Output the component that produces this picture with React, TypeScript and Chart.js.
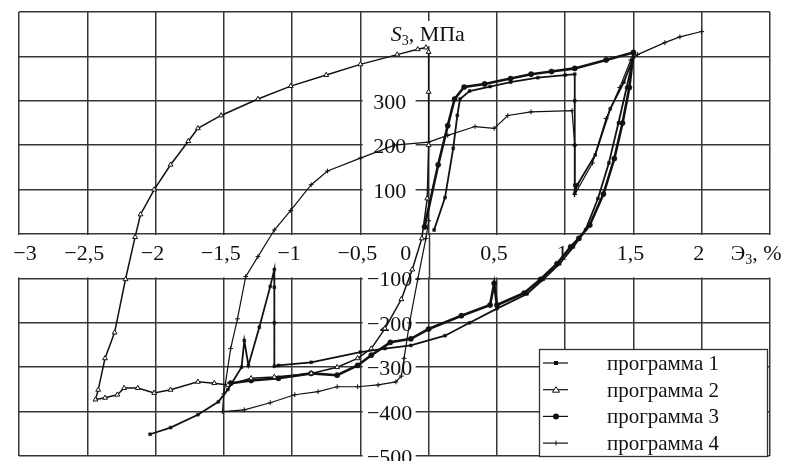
import { useEffect, useRef } from "react";
import { Chart, registerables } from "chart.js";

Chart.register(...registerables);

// ---- tick labels ----
const xTickValues = [-3, -2.5, -2, -1.5, -1, -0.5, 0, 0.5, 1, 1.5, 2];
const xTickLabels = ["−3", "−2,5", "−2", "−1,5", "−1", "−0,5", "0", "0,5", "1", "1,5", "2"];
const yTickValues = [300, 200, 100, -100, -200, -300, -400, -500];
const yTickLabels = ["300", "200", "100", "−100", "−200", "−300", "−400", "−500"];
const seriesNames = ["программа 1", "программа 2", "программа 3", "программа 4"];

// ---- series (strain %, stress MPa) ----
const prog1: [number, number][] = [
  [0.04, 9], [0.12, 82], [0.18, 193], [0.21, 267], [0.23, 304], [0.3, 322], [0.45, 332],
  [0.6, 342], [0.8, 352], [1.0, 358], [1.07, 360], [1.07, 300], [1.07, 200], [1.07, 110],
  [1.07, 92], [1.09, 111], [1.22, 178], [1.33, 282], [1.43, 342], [1.5, 398],
  [1.45, 330], [1.39, 250], [1.32, 160], [1.24, 80], [1.15, 10], [1.06, -29], [0.96, -67],
  [0.84, -102], [0.72, -135], [0.5, -168], [0.3, -200], [0.12, -229], [-0.13, -251],
  [-0.32, -258], [-0.5, -266], [-0.86, -289], [-1.1, -296], [-1.13, -298], [-1.13, -200],
  [-1.13, -120], [-1.13, -80], [-1.16, -118], [-1.24, -210], [-1.32, -296], [-1.35, -240],
  [-1.37, -300], [-1.47, -350], [-1.54, -378], [-1.69, -407], [-1.89, -436], [-2.04, -451],
];
const prog2: [number, number][] = [
  [-0.02, 420], [-0.08, 416], [-0.23, 404], [-0.5, 382], [-0.75, 358], [-1.01, 333],
  [-1.25, 304], [-1.52, 267], [-1.69, 238], [-1.76, 209], [-1.89, 156], [-2.01, 100],
  [-2.11, 44], [-2.15, -7], [-2.22, -102], [-2.3, -222], [-2.37, -280], [-2.42, -351],
  [-2.44, -373], [-2.37, -369], [-2.28, -362], [-2.23, -347], [-2.13, -347], [-2.01, -358],
  [-1.89, -351], [-1.69, -333], [-1.57, -336], [-1.47, -340], [-1.3, -325], [-1.13, -322],
  [-0.86, -314], [-0.67, -300], [-0.52, -280], [-0.42, -258], [-0.32, -213], [-0.2, -147],
  [-0.12, -80], [-0.05, -10], [-0.01, 80], [0, 200], [0, 320], [0, 410],
];
const prog3: [number, number][] = [
  [-0.03, 16], [0.07, 156], [0.14, 244], [0.19, 304], [0.26, 331], [0.41, 338], [0.6, 350],
  [0.75, 360], [0.9, 366], [1.07, 373], [1.3, 392], [1.5, 409], [1.47, 330], [1.42, 250],
  [1.36, 170], [1.28, 90], [1.18, 20], [1.1, -10], [1.04, -29], [0.94, -67], [0.82, -102],
  [0.7, -133], [0.5, -160], [0.48, -111], [0.45, -160], [0.24, -184], [0, -214],
  [-0.13, -236], [-0.28, -244], [-0.42, -273], [-0.52, -296], [-0.67, -318], [-0.86, -314],
  [-1.1, -325], [-1.3, -330], [-1.45, -336],
];
const prog4: [number, number][] = [
  [0.0, 30], [-0.02, -10], [-0.08, -102], [-0.14, -200], [-0.18, -280], [-0.2, -320],
  [-0.24, -333], [-0.37, -340], [-0.52, -344], [-0.67, -344], [-0.81, -355], [-0.98, -362],
  [-1.16, -380], [-1.35, -396], [-1.51, -400], [-1.5, -360], [-1.45, -258], [-1.4, -191],
  [-1.34, -96], [-1.25, -51], [-1.13, 9], [-1.01, 53], [-0.86, 111], [-0.74, 142],
  [-0.5, 171], [-0.25, 200], [0, 207], [0.14, 222], [0.34, 242], [0.48, 238], [0.58, 267],
  [0.75, 275], [1.05, 278], [1.07, 200], [1.07, 89], [1.2, 160], [1.3, 260], [1.4, 330],
  [1.48, 392], [1.53, 404], [1.73, 431], [1.84, 444], [2.0, 456],
];

const GRID = "#363636";
const GRID_W = 1.5;
const INK = "#111";
const FONT = '"Liberation Serif", "Times New Roman", serif';

function drawMarker(ctx: CanvasRenderingContext2D, kind: number, cx: number, cy: number) {
  ctx.save();
  ctx.fillStyle = INK;
  ctx.strokeStyle = INK;
  ctx.lineWidth = 1;
  if (kind === 0) {
    ctx.fillRect(cx - 2, cy - 2, 4, 4);
  } else if (kind === 1) {
    ctx.fillStyle = "#fff";
    ctx.beginPath();
    ctx.moveTo(cx, cy - 3);
    ctx.lineTo(cx + 3.5, cy + 2.5);
    ctx.lineTo(cx - 3.5, cy + 2.5);
    ctx.closePath();
    ctx.fill();
    ctx.stroke();
  } else if (kind === 2) {
    ctx.beginPath();
    ctx.arc(cx, cy, 3, 0, Math.PI * 2);
    ctx.fill();
  } else {
    ctx.beginPath();
    ctx.moveTo(cx, cy - 2.5);
    ctx.lineTo(cx, cy + 2.5);
    ctx.stroke();
  }
  ctx.restore();
}

const overlay = {
  id: "overlay",
  beforeDatasetsDraw(chart: any) {
    const { ctx, chartArea } = chart;
    const xs = chart.scales.x;
    const ys = chart.scales.y;
    const x0 = xs.getPixelForValue(0);
    const y0 = ys.getPixelForValue(0);
    const yM = ys.getPixelForValue(-100);
    ctx.save();
    // white label band below the x axis
    ctx.fillStyle = "#fff";
    ctx.fillRect(chartArea.left - 2, y0 + 1, chartArea.right - chartArea.left + 4, yM - y0 - 2);
    ctx.strokeStyle = GRID;
    ctx.lineWidth = GRID_W;
    ctx.beginPath();
    ctx.moveTo(Math.round(x0) + 0.5, y0);
    ctx.lineTo(Math.round(x0) + 0.5, yM);
    ctx.stroke();

    // y tick labels
    ctx.font = `22px ${FONT}`;
    ctx.textAlign = "center";
    ctx.textBaseline = "alphabetic";
    yTickValues.forEach((v, i) => {
      const py = ys.getPixelForValue(v);
      ctx.fillStyle = "#fff";
      ctx.fillRect(x0 - 66, py - 11, 53, 22);
      ctx.fillStyle = INK;
      ctx.fillText(yTickLabels[i], x0 - 39, py + 8);
    });

    // x tick labels
    xTickValues.forEach((v, i) => {
      let px = xs.getPixelForValue(v) - 3;
      if (i === 0) px += 9;
      if (v === 0) px = x0 - 23;
      ctx.fillStyle = INK;
      ctx.fillText(xTickLabels[i], px, y0 + 26);
    });

    // axis titles
    ctx.textAlign = "left";
    ctx.fillStyle = "#fff";
    ctx.fillRect(x0 - 40, 21, 90, 25);
    let tx = x0 - 38;
    const tby = 41;
    ctx.fillStyle = INK;
    ctx.font = `italic 22px ${FONT}`;
    ctx.fillText("S", tx, tby);
    tx += ctx.measureText("S").width;
    ctx.font = `14px ${FONT}`;
    ctx.fillText("3", tx, tby + 4);
    tx += ctx.measureText("3").width;
    ctx.font = `22px ${FONT}`;
    ctx.fillText(", МПа", tx, tby);

    let ex = xs.getPixelForValue(2) + 29;
    const eby = y0 + 26;
    ctx.font = `22px ${FONT}`;
    ctx.fillText("Э", ex, eby);
    ex += ctx.measureText("Э").width;
    ctx.font = `14px ${FONT}`;
    ctx.fillText("3", ex, eby + 4);
    ex += ctx.measureText("3").width;
    ctx.font = `22px ${FONT}`;
    ctx.fillText(", %", ex, eby);
    ctx.restore();
  },
  afterDraw(chart: any) {
    const { ctx, chartArea } = chart;
    const right = chartArea.right - 3;
    const left = right - 228;
    const top = 349;
    const h = 107;
    ctx.save();
    ctx.fillStyle = "#fff";
    ctx.fillRect(left, top, right - left, h);
    ctx.strokeStyle = "#333";
    ctx.lineWidth = 1.3;
    ctx.strokeRect(left + 0.5, top + 0.5, right - left, h);
    ctx.font = `21px ${FONT}`;
    ctx.textAlign = "center";
    ctx.textBaseline = "alphabetic";
    seriesNames.forEach((name, i) => {
      const ry = top + 14 + i * 26.7;
      ctx.strokeStyle = INK;
      ctx.lineWidth = 1.2;
      ctx.beginPath();
      ctx.moveTo(left + 4, ry);
      ctx.lineTo(left + 29, ry);
      ctx.stroke();
      drawMarker(ctx, i, left + 17, ry);
      ctx.fillStyle = INK;
      ctx.fillText(name, left + 124, ry + 7);
    });
    ctx.restore();
  },
};

const toPts = (arr: [number, number][]) => arr.map(([x, y]) => ({ x, y }));

export default function App() {
  const ref = useRef<HTMLCanvasElement | null>(null);
  useEffect(() => {
    document.body.style.margin = "0";
    document.body.style.overflow = "hidden";
    const canvas = ref.current;
    if (!canvas) return;
    const base = { showLine: true, borderColor: INK, pointBorderColor: INK };
    const chart = new Chart(canvas, {
      type: "scatter",
      data: {
        datasets: [
          { ...base, label: seriesNames[0], data: toPts(prog1), borderWidth: 1.8, pointStyle: "rect", pointRadius: 2, pointBackgroundColor: INK, pointBorderWidth: 0.5 },
          { ...base, label: seriesNames[1], data: toPts(prog2), borderWidth: 1.5, pointStyle: "triangle", pointRadius: 2.8, pointBackgroundColor: "#fff", pointBorderWidth: 1 },
          { ...base, label: seriesNames[2], data: toPts(prog3), borderWidth: 2.6, pointStyle: "circle", pointRadius: 2.6, pointBackgroundColor: INK, pointBorderWidth: 0.5 },
          { ...base, label: seriesNames[3], data: toPts(prog4), borderWidth: 1.2, pointStyle: "cross", pointRadius: 2.4, pointBackgroundColor: INK, pointBorderWidth: 1 },
        ],
      } as any,
      options: {
        animation: false,
        responsive: false,
        devicePixelRatio: 1,
        layout: { padding: { left: 19, right: 22, top: 12, bottom: 0 } },
        plugins: { legend: { display: false }, tooltip: { enabled: false } },
        scales: {
          x: {
            type: "linear",
            min: -3,
            max: 2.5,
            ticks: { display: false, stepSize: 0.5 },
            grid: { color: GRID, lineWidth: GRID_W, drawTicks: false },
            border: { display: false },
          },
          y: {
            type: "linear",
            min: -500,
            max: 500,
            ticks: { display: false, stepSize: 100 },
            grid: { color: GRID, lineWidth: GRID_W, drawTicks: false },
            border: { display: false },
          },
        },
      } as any,
      plugins: [overlay],
    });
    return () => chart.destroy();
  }, []);
  return <canvas ref={ref} width={792} height={461} style={{ display: "block" }} />;
}
